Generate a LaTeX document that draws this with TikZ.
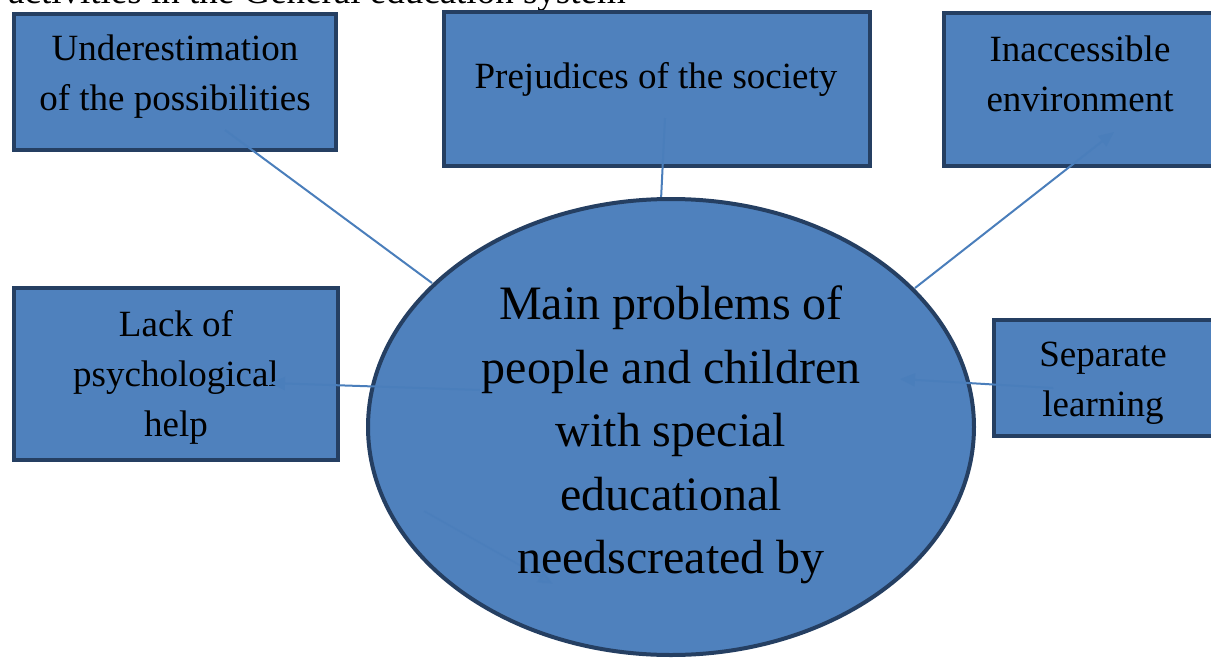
\documentclass[tikz,border=0pt]{standalone}
\usepackage{fontspec}
\setmainfont{Liberation Serif}
\usetikzlibrary{shapes.geometric,arrows.meta}
\definecolor{boxfill}{HTML}{4F81BD}
\definecolor{boxline}{HTML}{253F62}
\definecolor{conn}{HTML}{4A7EBB}
\tikzset{
  probbox/.style={draw=boxline,fill=boxfill,line width=4pt,inner sep=0pt,rectangle},
  boxtext/.style={align=center,inner sep=0pt,font=\fontsize{37}{50}\selectfont},
  conline/.style={draw=conn,line width=2pt},
  conarrow/.style={draw=conn,fill=conn,line width=2pt,-{Triangle[length=15pt,width=13pt]}},
}
\begin{document}
\begin{tikzpicture}[x=1pt,y=-1pt]
\useasboundingbox (0,0) rectangle (1211,659);
% cut-off heading
\node[anchor=base west,inner sep=0pt,font=\fontsize{37}{50}\selectfont] (head) at (8,3) {activities in the General education system};
% boxes
\node[probbox,minimum width=322pt,minimum height=136pt] (under) at (175,82) {};
\node[boxtext] (undert) at (175,77) {Underestimation\\of the possibilities};
\node[probbox,minimum width=426pt,minimum height=154pt] (prej) at (657,89) {};
\node[boxtext] (prejt) at (656,79) {Prejudices of the society};
\node[probbox,minimum width=272pt,minimum height=153pt] (inacc) at (1080,89.5) {};
\node[boxtext] (inacct) at (1080,74) {Inaccessible\\environment};
\node[probbox,minimum width=324pt,minimum height=172pt] (lack) at (176,374) {};
\node[boxtext] (lackt) at (176,377) {Lack of\\psychological\\help};
\node[probbox,minimum width=219pt,minimum height=116pt] (sep) at (1103,378) {};
\node[boxtext] (sept) at (1103,383) {Separate\\learning};
% connector end points
\coordinate (u1) at (225,130);
\coordinate (u2) at (432,283);
\coordinate (p1) at (665,118);
\coordinate (p2) at (661,200);
\coordinate (i1) at (915,288);
\coordinate (i2) at (1114,132);
\coordinate (l1) at (480,390);
\coordinate (l2) at (270,383);
\coordinate (s1) at (1053,388);
\coordinate (s2) at (900,379);
\coordinate (x1) at (424,511);
\coordinate (x2) at (553,584);
% connectors behind the ellipse
\draw[conline] (u1) -- (u2);
\draw[conline] (p1) -- (p2);
\draw[conarrow] (i1) -- (i2);
% central ellipse
\node[draw=boxline,fill=boxfill,line width=4pt,ellipse,inner sep=0pt,minimum width=606pt,minimum height=456pt] (main) at (671,427) {};
\draw[conarrow,opacity=0.5] (x1) -- (x2);
\node[align=center,inner sep=0pt,font=\fontsize{48}{63.5}\selectfont] (maint) at (671,435) {Main problems of\\people and children\\with special\\educational\\needscreated by};
% connectors on top
\draw[conarrow] (l1) -- (l2);
\draw[conarrow] (s1) -- (s2);
\end{tikzpicture}
\end{document}
